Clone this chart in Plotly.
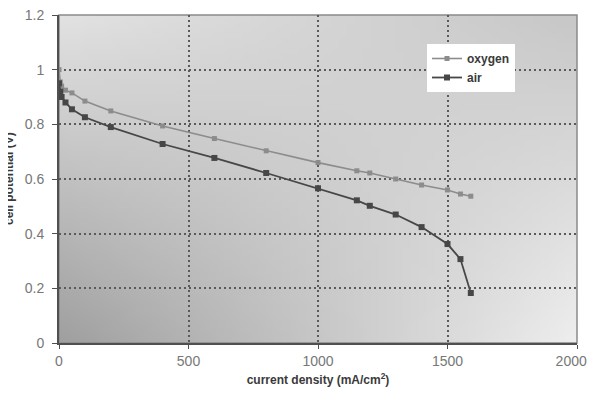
import base64, struct, zlib
import numpy as np
import plotly.graph_objects as go

# ---- data ----
oxygen_x = [0, 5, 10, 25, 50, 100, 200, 400, 600, 800, 1000, 1150, 1200, 1300, 1400, 1500, 1550, 1590]
oxygen_y = [1.0, 0.955, 0.94, 0.925, 0.915, 0.885, 0.849, 0.794, 0.748, 0.703, 0.66, 0.63, 0.622, 0.6, 0.578, 0.56, 0.545, 0.537]
air_x = [0, 5, 10, 25, 50, 100, 200, 400, 600, 800, 1000, 1150, 1200, 1300, 1400, 1500, 1550, 1590]
air_y = [0.95, 0.92, 0.9, 0.88, 0.855, 0.826, 0.79, 0.728, 0.677, 0.622, 0.566, 0.522, 0.502, 0.47, 0.424, 0.362, 0.307, 0.183]

x_ticks = [0, 500, 1000, 1500, 2000]
x_tick_labels = ["0", "500", "1000", "1500", "2000"]
y_ticks = [0, 0.2, 0.4, 0.6, 0.8, 1.0, 1.2]
y_tick_labels = ["0", "0.2", "0.4", "0.6", "0.8", "1", "1.2"]

# ---- gradient background image (style only) ----
def gradient_png(w=64, h=64, tl=226, tr=200, bl=160, br=238):
    u = np.linspace(0, 1, w)[None, :]
    v = np.linspace(0, 1, h)[:, None]
    g = (tl * (1 - u) * (1 - v) + tr * u * (1 - v) + bl * (1 - u) * v + br * u * v)
    arr = np.clip(g, 0, 255).astype(np.uint8)
    rgb = np.stack([arr, arr, arr], axis=-1)
    raw = b"".join(b"\x00" + rgb[i].tobytes() for i in range(h))

    def chunk(tag, data):
        c = struct.pack(">I", len(data)) + tag + data
        return c + struct.pack(">I", zlib.crc32(tag + data) & 0xffffffff)

    png = b"\x89PNG\r\n\x1a\n"
    png += chunk(b"IHDR", struct.pack(">IIBBBBB", w, h, 8, 2, 0, 0, 0))
    png += chunk(b"IDAT", zlib.compress(raw, 9))
    png += chunk(b"IEND", b"")
    return "data:image/png;base64," + base64.b64encode(png).decode()

FONT = "Liberation Sans, Arial, sans-serif"
# page body has an 8px margin, so the figure is drawn 8px in from the top-left;
# size the figure so that the page does not overflow the 596x404 window
W, H = 580, 388
L, R, T, B = 51, 11, 7, 53
PW = W - L - R
PH = H - T - B

# keep the last x label clear of the right edge of the figure
x_tick_text = x_tick_labels[:-1] + [x_tick_labels[-1] + "\u00a0\u00a0\u00a0"]

fig = go.Figure()
fig.add_trace(go.Scatter(
    x=oxygen_x, y=oxygen_y, name="oxygen", mode="lines+markers",
    line=dict(color="#8c8c8c", width=1.6),
    marker=dict(symbol="square", size=5, color="#8c8c8c"),
))
fig.add_trace(go.Scatter(
    x=air_x, y=air_y, name="air", mode="lines+markers",
    line=dict(color="#474747", width=1.8),
    marker=dict(symbol="square", size=6, color="#474747"),
))

fig.update_layout(
    width=W, height=H, autosize=False,
    margin=dict(l=L, r=R, t=T, b=B, pad=0, autoexpand=False),
    paper_bgcolor="white",
    plot_bgcolor="rgba(0,0,0,0)",
    font=dict(family=FONT, size=14, color="#777777"),
    images=[dict(source=gradient_png(), xref="paper", yref="paper",
                 x=0, y=1, sizex=1, sizey=1, sizing="stretch",
                 xanchor="left", yanchor="top", layer="below")],
    shapes=[dict(type="rect", xref="paper", yref="paper", x0=0, y0=0, x1=1, y1=1,
                 line=dict(color="#8a8a8a", width=1.5), layer="below")],
    legend=dict(
        x=(419 - L) / PW, y=(PH + T - 36) / PH, xanchor="left", yanchor="top",
        bgcolor="white", borderwidth=0,
        font=dict(family=FONT, size=12, color="#3a3a3a", weight="bold"),
        itemwidth=30, tracegroupgap=2,
    ),
    showlegend=True,
    annotations=[dict(
        text="<b>cell potential (V)</b>", textangle=-90,
        xref="paper", yref="paper", x=(1 - L) / PW, y=0.5,
        xanchor="center", yanchor="middle", showarrow=False,
        font=dict(family=FONT, size=12, color="#3a3a3a"),
    )],
)

fig.update_xaxes(
    range=[0, 2000], tickvals=x_ticks, ticktext=x_tick_text,
    automargin=False, ticklabeloverflow="allow",
    showgrid=True, gridcolor="#5a5a5a", gridwidth=1.5, griddash="2px,3px",
    showline=True, linecolor="#505050", linewidth=2, zeroline=False,
    ticks="outside", ticklen=4, tickcolor="#505050", ticklabelstandoff=0,
    tickfont=dict(family=FONT, size=14, color="#777777"),
    title=dict(text="<b>current density (mA/cm<sup>2</sup>)</b>", standoff=8,
               font=dict(family=FONT, size=12, color="#3a3a3a")),
)
fig.update_yaxes(
    range=[0, 1.2], tickvals=y_ticks, ticktext=y_tick_labels,
    automargin=False, ticklabeloverflow="allow",
    showgrid=True, gridcolor="#5a5a5a", gridwidth=1.5, griddash="2px,3px",
    showline=True, linecolor="#505050", linewidth=2, zeroline=False,
    ticks="outside", ticklen=5, tickcolor="#505050", ticklabelstandoff=5,
    tickfont=dict(family=FONT, size=14, color="#777777"),
)

fig.write_html("out.html")
